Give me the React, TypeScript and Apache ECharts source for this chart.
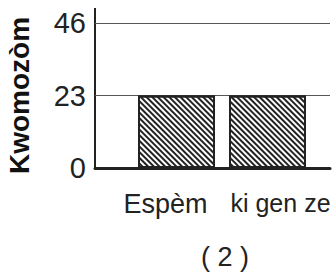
import React, { useEffect, useRef } from 'react';
import * as echarts from 'echarts';

const categories = ['Espèm', 'ki gen ze'];
const values = [23, 23];
const yMin = 0;
const yMax = 46;
const yInterval = 23;
const yName = 'Kwomozòm';
const caption = '( 2 )';

export default function App() {
  const ref = useRef<HTMLDivElement>(null);
  useEffect(() => {
    const chart = echarts.init(ref.current!, null, { renderer: 'svg' });
    const labelStyles = [
      { padding: [0, 22, 0, 0], fontSize: 27 },
      { padding: [0, 0, 0, 26], fontSize: 25 },
    ];
    chart.setOption({
      animation: false,
      backgroundColor: '#fff',
      textStyle: { fontFamily: 'Liberation Sans' },
      title: {
        text: caption,
        left: 196,
        top: 238,
        textStyle: { fontSize: 27, fontWeight: 'normal', color: '#222', fontFamily: 'Liberation Sans' },
      },
      grid: [
        { left: 95, right: 4, top: 23, bottom: 106, outerBoundsMode: 'none', containLabel: false },
        { left: 131, right: 21, top: 23, bottom: 106, outerBoundsMode: 'none', containLabel: false },
      ],
      xAxis: [
        {
          gridIndex: 0,
          type: 'category',
          data: [''],
          axisLine: { lineStyle: { color: '#222', width: 3 } },
          axisTick: { show: false },
          axisLabel: { show: false },
        },
        {
          gridIndex: 1,
          type: 'category',
          data: categories.map((c, i) => ({ value: c, textStyle: labelStyles[i] })),
          axisLine: { show: false },
          axisTick: { show: false },
          axisLabel: { fontSize: 27, color: '#222', margin: 22, interval: 0, hideOverlap: false },
        },
      ],
      yAxis: [
        {
          gridIndex: 0,
          type: 'value',
          min: yMin,
          max: yMax,
          interval: yInterval,
          name: yName,
          nameLocation: 'middle',
          nameRotate: 90,
          nameGap: 62,
          nameTextStyle: { fontSize: 28, fontWeight: 'bold', color: '#111' },
          axisLine: { show: false },
          axisTick: { show: false },
          axisLabel: { fontSize: 29, color: '#222', margin: 9 },
          splitLine: { lineStyle: { color: '#555', width: 1 } },
        },
        {
          gridIndex: 1,
          type: 'value',
          min: yMin,
          max: yMax,
          interval: yInterval,
          show: false,
        },
      ],
      series: [
        {
          type: 'bar',
          xAxisIndex: 1,
          yAxisIndex: 1,
          data: values,
          barWidth: 77,
          itemStyle: {
            color: '#fff',
            borderColor: '#222',
            borderWidth: 2,
            decal: {
              symbol: 'rect',
              symbolSize: 1,
              color: '#222',
              dashArrayX: [1, 0],
              dashArrayY: [2, 2],
              rotation: Math.PI / 4,
            },
          },
        },
      ],
      graphic: [
        {
          type: 'line',
          shape: { x1: 95, y1: 8, x2: 95, y2: 168 },
          style: { stroke: '#222', lineWidth: 2 },
        },
      ],
    });
    return () => chart.dispose();
  }, []);
  return (
    <div
      ref={ref}
      style={{ position: 'fixed', left: 0, top: 0, width: 334, height: 274, background: '#fff' }}
    />
  );
}
